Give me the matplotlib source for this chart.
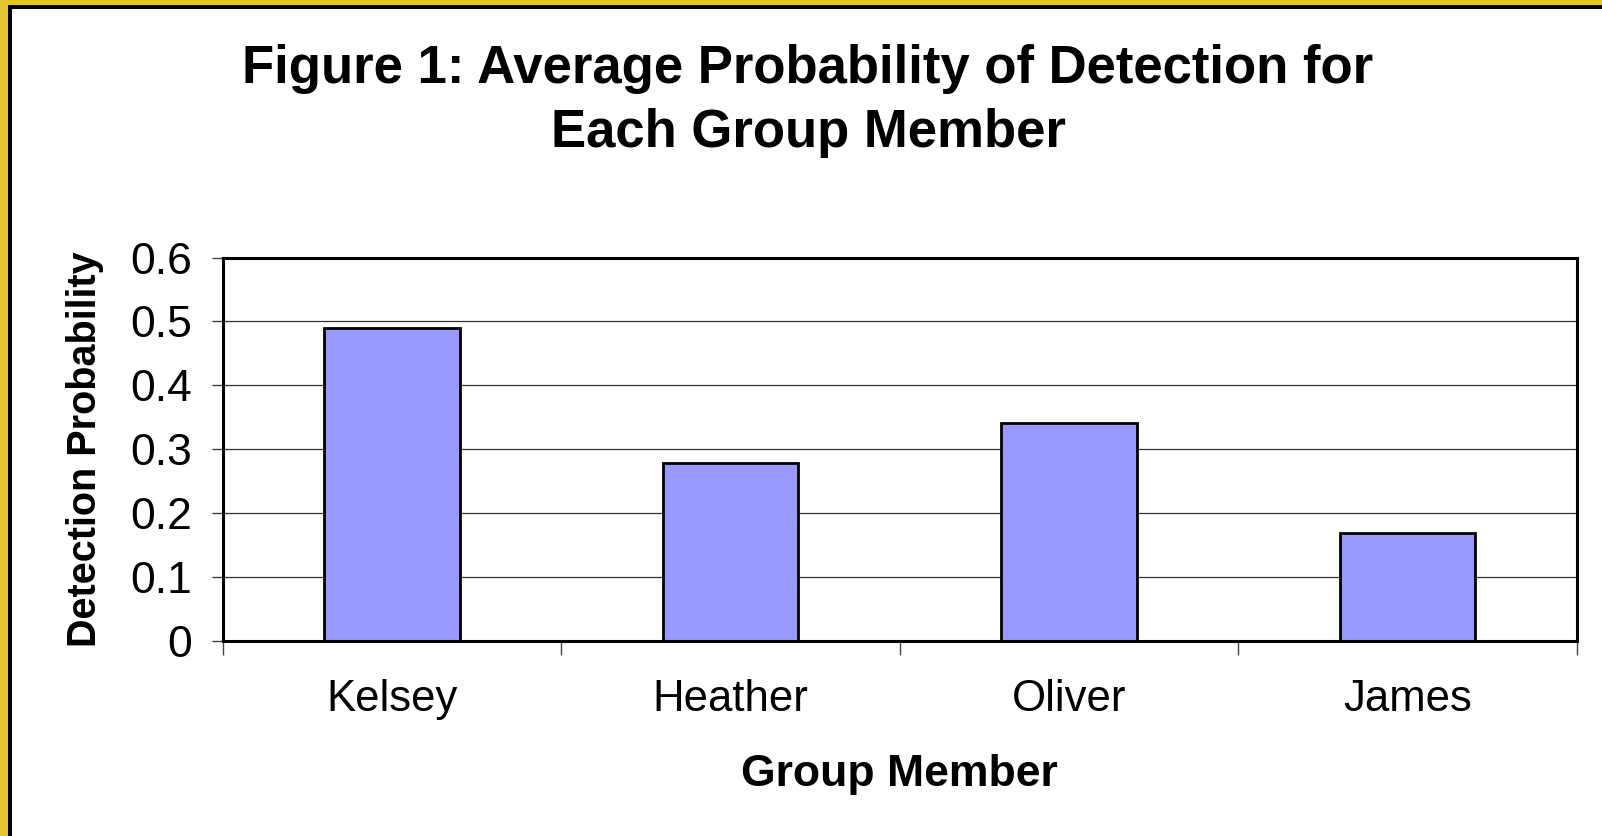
import matplotlib.pyplot as plt
import matplotlib.patches as mpatches
import numpy as np

plt.rcParams['font.family'] = ['Liberation Sans', 'DejaVu Sans']

# data
members = ["Kelsey", "Heather", "Oliver", "James"]
probs = [0.489, 0.278, 0.341, 0.168]
y_ticks = [0, 0.1, 0.2, 0.3, 0.4, 0.5, 0.6]
y_tick_labels = ["0", "0.1", "0.2", "0.3", "0.4", "0.5", "0.6"]

W, H = 1602, 836
fig = plt.figure(figsize=(W / 100, H / 100), dpi=100)
fig.patch.set_facecolor("white")

# yellow frame on top and left, with a thin black inner line
fig.patches.append(mpatches.Rectangle((0, 0), 10 / W, 1, transform=fig.transFigure,
                                      facecolor="#E6C534", edgecolor="none", zorder=0))
fig.patches.append(mpatches.Rectangle((0, 1 - 6 / H), 1, 6 / H, transform=fig.transFigure,
                                      facecolor="#E6C534", edgecolor="none", zorder=0))
fig.patches.append(mpatches.Rectangle((8 / W, 0), 3.5 / W, 1 - 6 / H, transform=fig.transFigure,
                                      facecolor="black", edgecolor="none", zorder=1))
fig.patches.append(mpatches.Rectangle((8 / W, 1 - 9 / H), 1, 3.5 / H, transform=fig.transFigure,
                                      facecolor="black", edgecolor="none", zorder=1))

left, right, top, bottom = 222.7, 1576.5, 257.5, 640.6
ax = fig.add_axes([left / W, 1 - bottom / H, (right - left) / W, (bottom - top) / H])

x = np.arange(len(members))
ax.bar(x, probs, width=0.4, color="#9999FF", edgecolor="black", linewidth=2, zorder=3)

ax.set_xlim(-0.5, len(members) - 0.5)
ax.set_ylim(0, 0.6)
ax.set_yticks(y_ticks)
ax.set_yticklabels(y_tick_labels, fontsize=32)
ax.yaxis.grid(True, color="#333333", linewidth=0.9, zorder=0)
ax.tick_params(axis="y", length=8, width=1, color="#444444", pad=14)

# boundary ticks as majors, labels on minors at bar centres
ax.set_xticks(np.arange(len(members) + 1) - 0.5)
ax.set_xticklabels([])
ax.set_xticks(x, minor=True)
ax.set_xticklabels(members, minor=True, fontsize=31.5)
ax.tick_params(axis="x", which="major", length=10, width=1, color="#444444", direction="out")
ax.tick_params(axis="x", which="minor", length=0, pad=28)

for s in ax.spines.values():
    s.set_linewidth(2.2)
    s.set_zorder(4)

ax.set_xlabel("Group Member", fontsize=32, fontweight="bold", labelpad=24)
ax.set_ylabel("Detection Probability", fontsize=28.5, fontweight="bold", labelpad=19)

fig.text(808 / W, 1 - 101 / H, "Figure 1: Average Probability of Detection for\nEach Group Member",
         ha="center", va="center", fontsize=38, fontweight="bold", linespacing=1.38)

fig.savefig("out.png", dpi=100)
